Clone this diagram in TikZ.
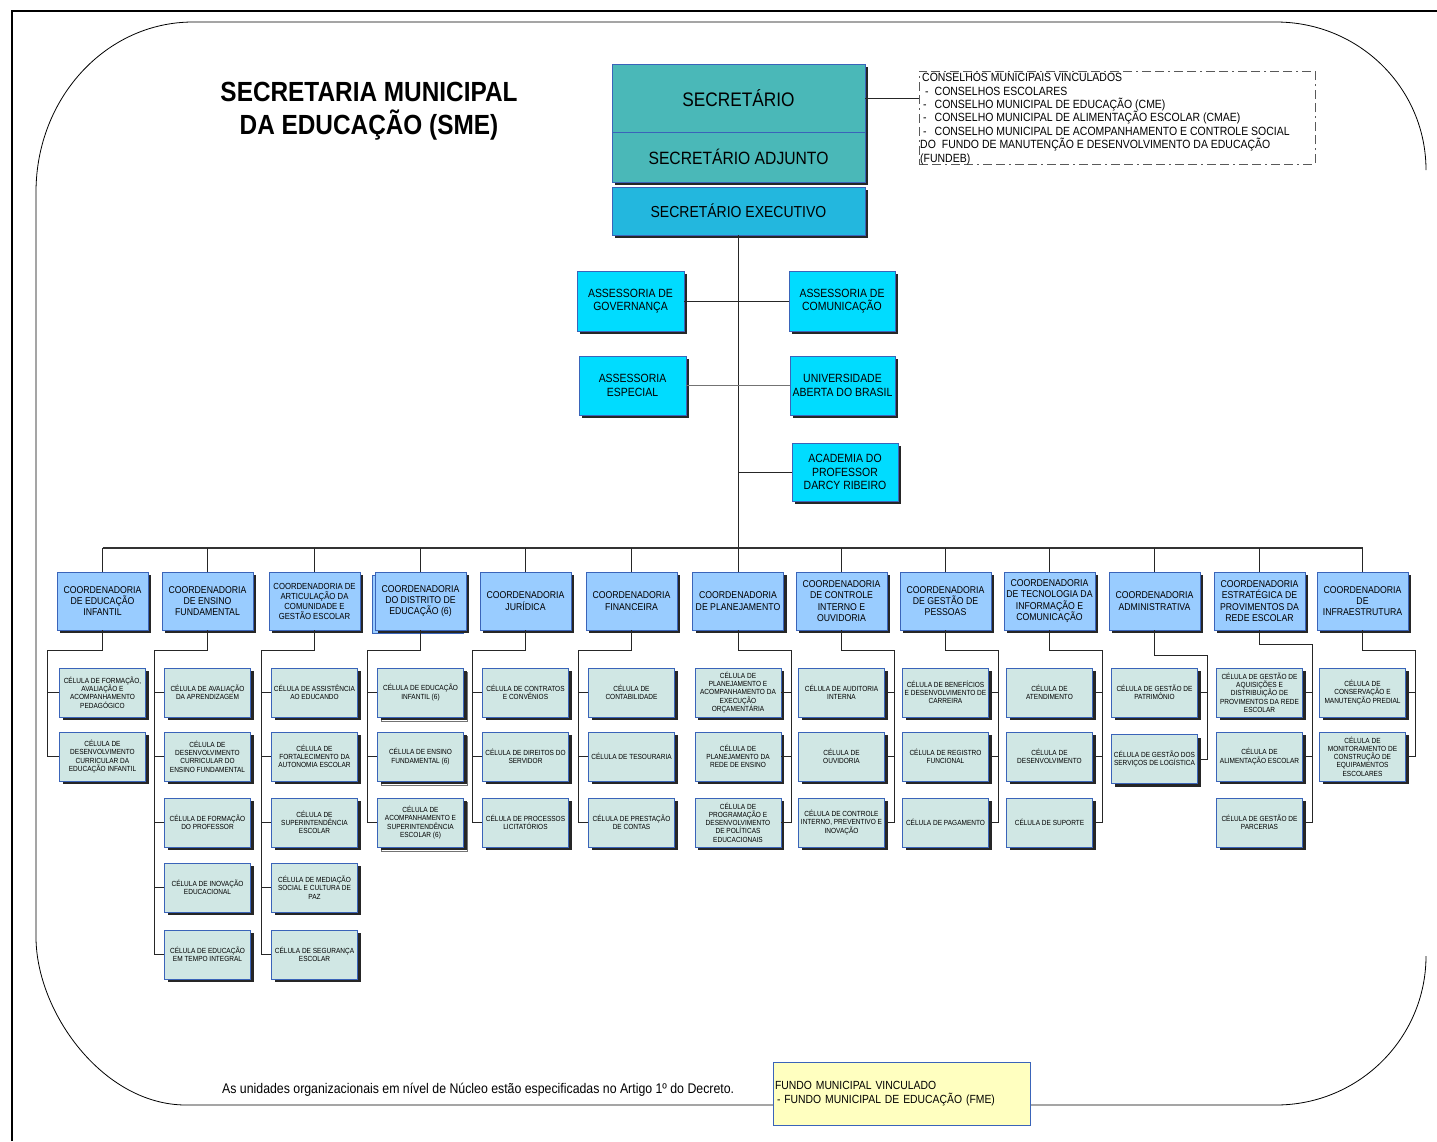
\documentclass[tikz,border=0pt]{standalone}
\usepackage{fontspec}
\setmainfont{Liberation Sans}[FakeStretch=0.88]
\usetikzlibrary{shadows,calc}
\definecolor{bordblue}{RGB}{58,100,185}
\definecolor{celfill}{RGB}{208,231,228}
\definecolor{cofill}{RGB}{153,204,255}
\definecolor{asfill}{RGB}{0,220,255}
\definecolor{secfill}{RGB}{74,184,184}
\definecolor{exefill}{RGB}{35,183,222}
\definecolor{fundfill}{RGB}{255,255,192}
\tikzset{
  base/.style={draw=bordblue, line width=0.6pt, align=center, inner sep=1pt},
  shad/.style={drop shadow={shadow xshift=3pt, shadow yshift=-3pt, opacity=1, fill=black!85}},
  cel/.style={base, shad, fill=celfill, minimum width=86pt, minimum height=49pt, font=\fontsize{7.4}{8.3}\selectfont},
  celback/.style={draw=black!55, fill=white, line width=0.6pt, minimum width=86pt, minimum height=49pt},
  coord/.style={base, shad, fill=cofill, minimum width=91pt, minimum height=58pt, font=\fontsize{9.9}{11.4}\selectfont},
  asse/.style={base, shad, fill=asfill, font=\fontsize{11.9}{13.7}\selectfont},
  conn/.style={draw=black!85, line width=0.8pt},
}
\begin{document}
\begin{tikzpicture}[x=1pt,y=-1pt]
\useasboundingbox (0,0) rectangle (1437,1141);
% outer frame
\draw[line width=2pt] (12,1141) -- (12,11) -- (1437,11);
% rounded inner frame
\draw[line width=0.8pt] (1426,956) .. controls (1426,1038) and (1359,1105) .. (1276,1105)
  -- (186,1105) .. controls (103,1105) and (36,1012) .. (36,937)
  -- (36,192) .. controls (36,98) and (106,22) .. (193,22)
  -- (1276,22) .. controls (1359,22) and (1426,88) .. (1426,170);

% title
\node[font=\bfseries\fontsize{27.7}{33}\selectfont, align=center] (title) at (369,111) {SECRETARIA MUNICIPAL\\DA EDUCAÇÃO (SME)};

% top
\node[base, shad, fill=secfill, minimum width=253pt, minimum height=68pt, font=\fontsize{19.6}{22}\selectfont] (sec) at (738.5,98) {SECRETÁRIO};
\node[base, shad, fill=secfill, minimum width=253pt, minimum height=50pt, font=\fontsize{17.8}{20}\selectfont] (adj) at (738.5,157) {SECRETÁRIO ADJUNTO};
\node[base, shad, fill=exefill, minimum width=253pt, minimum height=48pt, font=\fontsize{15.9}{18}\selectfont] (exe) at (738.5,211) {SECRETÁRIO EXECUTIVO};

\node[draw=black!65, line width=0.9pt, dash pattern=on 9pt off 4pt on 9pt off 4pt on 2pt off 4pt, minimum width=396pt, minimum height=93pt] (cons) at (1117,117.5) {};
\node[anchor=north west, inner sep=0pt, align=left, font=\fontsize{11.9}{13.4}\selectfont] (constx) at (920,73.2)
{\hspace*{2pt}CONSELHOS MUNICIPAIS VINCULADOS\\
\hspace*{5pt}-\hspace*{6pt}CONSELHOS ESCOLARES\\
\hspace*{3pt}-\hspace*{8pt}CONSELHO MUNICIPAL DE EDUCAÇÃO (CME)\\
\hspace*{3pt}-\hspace*{8pt}CONSELHO MUNICIPAL DE ALIMENTAÇÃO ESCOLAR (CMAE)\\
\hspace*{3pt}-\hspace*{8pt}CONSELHO MUNICIPAL DE ACOMPANHAMENTO E CONTROLE SOCIAL\\
DO\hspace*{6pt}FUNDO DE MANUTENÇÃO E DESENVOLVIMENTO DA EDUCAÇÃO\\
(FUNDEB)};
\draw[conn] (sec.east) -- (sec.east -| cons.west);

% assessorias
\node[asse, minimum width=107pt, minimum height=60pt] (gov) at (630.5,301) {ASSESSORIA DE\\GOVERNANÇA};
\node[asse, minimum width=106pt, minimum height=60pt] (com) at (842,301) {ASSESSORIA DE\\COMUNICAÇÃO};
\node[asse, minimum width=107pt, minimum height=59pt] (esp) at (632.5,385.5) {ASSESSORIA\\ESPECIAL};
\node[asse, minimum width=105pt, minimum height=59pt] (uab) at (842.5,385.5) {UNIVERSIDADE\\ABERTA DO BRASIL};
\node[asse, minimum width=106pt, minimum height=58pt] (aca) at (845,472) {ACADEMIA DO\\PROFESSOR\\DARCY RIBEIRO};

% bus
\coordinate (busL) at (102.5,548);
\coordinate (busR) at (1362.5,548);
\draw[conn] (exe.south) -- (exe.south |- busL);
\draw[conn] (gov.east) -- (com.west);
\draw[draw=black!55, line width=0.9pt] (esp.east) -- (uab.west);
\draw[conn] (exe.south |- aca.west) -- (aca.west);
\draw[draw=black!80, line width=1.2pt] (busL) -- (busR);

% coordenadorias
\node[coord] (co1) at (102.5,601) {COORDENADORIA\\DE EDUCAÇÃO\\INFANTIL};
\node[coord] (co2) at (207.5,601) {COORDENADORIA\\DE ENSINO\\FUNDAMENTAL};
\node[coord, font=\fontsize{8.8}{10}\selectfont] (co3) at (314.5,601) {COORDENADORIA DE\\ARTICULAÇÃO DA\\COMUNIDADE E\\GESTÃO ESCOLAR};
\node[base, fill=cofill, minimum width=91pt, minimum height=58pt] (co4s) at (418,604) {};
\node[coord] (co4) at (420.5,601) {COORDENADORIA\\DO DISTRITO DE\\EDUCAÇÃO (6)};
\node[coord] (co5) at (525.5,601) {COORDENADORIA\\JURÍDICA};
\node[coord] (co6) at (631.5,601) {COORDENADORIA\\FINANCEIRA};
\node[coord] (co7) at (738,601) {COORDENADORIA\\DE PLANEJAMENTO};
\node[coord] (co8) at (841.5,601) {COORDENADORIA\\DE CONTROLE\\INTERNO E\\OUVIDORIA};
\node[coord] (co9) at (945.5,601) {COORDENADORIA\\DE GESTÃO DE\\PESSOAS};
\node[coord] (co10) at (1049.5,601) {COORDENADORIA\\DE TECNOLOGIA DA\\INFORMAÇÃO E\\COMUNICAÇÃO};
\node[coord] (co11) at (1154.5,601) {COORDENADORIA\\ADMINISTRATIVA};
\node[coord] (co12) at (1259.5,601) {COORDENADORIA\\ESTRATÉGICA DE\\PROVIMENTOS DA\\REDE ESCOLAR};
\node[coord] (co13) at (1362.5,601) {COORDENADORIA\\DE\\INFRAESTRUTURA};
\foreach \i in {1,...,13} {\draw[conn] (co\i.north) -- (co\i.north |- busL);}

% celulas col 1
\node[cel] (c1a) at (102.5,692.5) {CÉLULA DE FORMAÇÃO,\\AVALIAÇÃO E\\ACOMPANHAMENTO\\PEDAGÓGICO};
\node[cel] (c1b) at (102.5,756.5) {CÉLULA DE\\DESENVOLVIMENTO\\CURRICULAR DA\\EDUCAÇÃO INFANTIL};
% col 2
\node[cel] (c2a) at (207.5,692.5) {CÉLULA DE AVALIAÇÃO\\DA APRENDIZAGEM};
\node[cel] (c2b) at (207.5,756.5) {CÉLULA DE\\DESENVOLVIMENTO\\CURRICULAR DO\\ENSINO FUNDAMENTAL};
\node[cel] (c2c) at (207.5,822.5) {CÉLULA DE FORMAÇÃO\\DO PROFESSOR};
\node[cel] (c2d) at (207.5,887.5) {CÉLULA DE INOVAÇÃO\\EDUCACIONAL};
\node[cel] (c2e) at (207.5,954.5) {CÉLULA DE EDUCAÇÃO\\EM TEMPO INTEGRAL};
% col 3
\node[cel] (c3a) at (314.5,692.5) {CÉLULA DE ASSISTÊNCIA\\AO EDUCANDO};
\node[cel] (c3b) at (314.5,756.5) {CÉLULA DE\\FORTALECIMENTO DA\\AUTONOMIA ESCOLAR};
\node[cel] (c3c) at (314.5,822.5) {CÉLULA DE\\SUPERINTENDÊNCIA\\ESCOLAR};
\node[cel] (c3d) at (314.5,887.5) {CÉLULA DE MEDIAÇÃO\\SOCIAL E CULTURA DE\\PAZ};
\node[cel] (c3e) at (314.5,954.5) {CÉLULA DE SEGURANÇA\\ESCOLAR};
% col 4
\node[celback] (c4as) at (424.5,696.5) {};
\node[celback] (c4bs) at (424.5,760.5) {};
\node[celback] (c4cs) at (424.5,826.5) {};
\node[cel] (c4a) at (420.5,692.5) {CÉLULA DE EDUCAÇÃO\\INFANTIL (6)};
\node[cel] (c4b) at (420.5,756.5) {CÉLULA DE ENSINO\\FUNDAMENTAL (6)};
\node[cel] (c4c) at (420.5,822.5) {CÉLULA DE\\ACOMPANHAMENTO E\\SUPERINTENDÊNCIA\\ESCOLAR (6)};
% col 5
\node[cel] (c5a) at (525.5,692.5) {CÉLULA DE CONTRATOS\\E CONVÊNIOS};
\node[cel] (c5b) at (525.5,756.5) {CÉLULA DE DIREITOS DO\\SERVIDOR};
\node[cel] (c5c) at (525.5,822.5) {CÉLULA DE PROCESSOS\\LICITATÓRIOS};
% col 6
\node[cel] (c6a) at (631.5,692.5) {CÉLULA DE\\CONTABILIDADE};
\node[cel] (c6b) at (631.5,756.5) {CÉLULA DE TESOURARIA};
\node[cel] (c6c) at (631.5,822.5) {CÉLULA DE PRESTAÇÃO\\DE CONTAS};
% col 7
\node[cel] (c7a) at (738,692.5) {CÉLULA DE\\PLANEJAMENTO E\\ACOMPANHAMENTO DA\\EXECUÇÃO\\ORÇAMENTÁRIA};
\node[cel] (c7b) at (738,756.5) {CÉLULA DE\\PLANEJAMENTO DA\\REDE DE ENSINO};
\node[cel] (c7c) at (738,822.5) {CÉLULA DE\\PROGRAMAÇÃO E\\DESENVOLVIMENTO\\DE POLÍTICAS\\EDUCACIONAIS};
% col 8
\node[cel] (c8a) at (841.5,692.5) {CÉLULA DE AUDITORIA\\INTERNA};
\node[cel] (c8b) at (841.5,756.5) {CÉLULA DE\\OUVIDORIA};
\node[cel] (c8c) at (841.5,822.5) {CÉLULA DE CONTROLE\\INTERNO, PREVENTIVO E\\INOVAÇÃO};
% col 9
\node[cel] (c9a) at (945.5,692.5) {CÉLULA DE BENEFÍCIOS\\E DESENVOLVIMENTO DE\\CARREIRA};
\node[cel] (c9b) at (945.5,756.5) {CÉLULA DE REGISTRO\\FUNCIONAL};
\node[cel] (c9c) at (945.5,822.5) {CÉLULA DE PAGAMENTO};
% col 10
\node[cel] (c10a) at (1049.5,692.5) {CÉLULA DE\\ATENDIMENTO};
\node[cel] (c10b) at (1049.5,756.5) {CÉLULA DE\\DESENVOLVIMENTO};
\node[cel] (c10c) at (1049.5,822.5) {CÉLULA DE SUPORTE};
% col 11
\node[cel] (c11a) at (1154.5,692.5) {CÉLULA DE GESTÃO DE\\PATRIMÔNIO};
\node[cel] (c11b) at (1154.5,759) {CÉLULA DE GESTÃO DOS\\SERVIÇOS DE LOGÍSTICA};
% col 12
\node[cel] (c12a) at (1259.5,692.5) {CÉLULA DE GESTÃO DE\\AQUISIÇÕES E\\DISTRIBUIÇÃO DE\\PROVIMENTOS DA REDE\\ESCOLAR};
\node[cel] (c12b) at (1259.5,756.5) {CÉLULA DE\\ALIMENTAÇÃO ESCOLAR};
\node[cel] (c12c) at (1259.5,822.5) {CÉLULA DE GESTÃO DE\\PARCERIAS};
% col 13
\node[cel] (c13a) at (1362.5,692.5) {CÉLULA DE\\CONSERVAÇÃO E\\MANUTENÇÃO PREDIAL};
\node[cel] (c13b) at (1362.5,756.5) {CÉLULA DE\\MONITORAMENTO DE\\CONSTRUÇÃO DE\\EQUIPAMENTOS\\ESCOLARES};

% bend points
\coordinate (k1) at (47.5,650);
\coordinate (k2) at (154.5,650);
\coordinate (k3) at (261.5,650);
\coordinate (k4) at (367.5,650);
\coordinate (k5) at (472.5,650);
\coordinate (k6) at (578.5,650);
\coordinate (k7) at (791,650);
\coordinate (k8) at (894.5,650);
\coordinate (k9) at (998.5,650);
\coordinate (k10) at (1102.5,650);
\coordinate (k11) at (1207.5,655);
\coordinate (k12) at (1312.5,644);
\coordinate (k13) at (1415.5,650);

% left-side branches
\draw[conn] (co1.south) |- (k1) |- (c1b.west);
\draw[conn] (c1a.west) -- (c1a.west -| k1);
\draw[conn] (co2.south) |- (k2) |- (c2e.west);
\foreach \r in {a,b,c,d} {\draw[conn] (c2\r.west) -- (c2\r.west -| k2);}
\draw[conn] (co3.south) |- (k3) |- (c3e.west);
\foreach \r in {a,b,c,d} {\draw[conn] (c3\r.west) -- (c3\r.west -| k3);}
\draw[conn] (co4.south) |- (k4) |- (c4c.west);
\foreach \r in {a,b} {\draw[conn] (c4\r.west) -- (c4\r.west -| k4);}
\draw[conn] (co5.south) |- (k5) |- (c5c.west);
\foreach \r in {a,b} {\draw[conn] (c5\r.west) -- (c5\r.west -| k5);}
\draw[conn] (co6.south) |- (k6) |- (c6c.west);
\foreach \r in {a,b} {\draw[conn] (c6\r.west) -- (c6\r.west -| k6);}
% right-side branches
\draw[conn] (co7.south) |- (k7) |- (c7c.east);
\foreach \r in {a,b} {\draw[conn] (c7\r.east) -- (c7\r.east -| k7);}
\draw[conn] (co8.south) |- (k8) |- (c8c.east);
\foreach \r in {a,b} {\draw[conn] (c8\r.east) -- (c8\r.east -| k8);}
\draw[conn] (co9.south) |- (k9) |- (c9c.east);
\foreach \r in {a,b} {\draw[conn] (c9\r.east) -- (c9\r.east -| k9);}
\draw[conn] (co10.south) |- (k10) |- (c10c.east);
\foreach \r in {a,b} {\draw[conn] (c10\r.east) -- (c10\r.east -| k10);}
\draw[conn] (co11.south) |- (k11) |- (c11b.east);
\draw[conn] (c11a.east) -- (c11a.east -| k11);
\draw[conn] (co12.south) |- (k12) |- (c12c.east);
\foreach \r in {a,b} {\draw[conn] (c12\r.east) -- (c12\r.east -| k12);}
\draw[conn] (co13.south) |- (k13) |- (c13b.east);
\draw[conn] (c13a.east) -- (c13a.east -| k13);

% footer
\node[anchor=west, font=\fontsize{14}{16}\selectfont, inner sep=0pt] (note) at (222,1090) {As unidades organizacionais em nível de Núcleo estão especificadas no Artigo 1º do Decreto.};
\node[draw=bordblue, line width=0.7pt, fill=fundfill, minimum width=257pt, minimum height=63pt, text width=253pt, inner xsep=2pt, align=left, font=\fontsize{11.8}{13.4}\selectfont] (fme) at (901.5,1093.5) {FUNDO MUNICIPAL VINCULADO\\\hspace*{2pt}- FUNDO MUNICIPAL DE EDUCAÇÃO (FME)};
\end{tikzpicture}
\end{document}
